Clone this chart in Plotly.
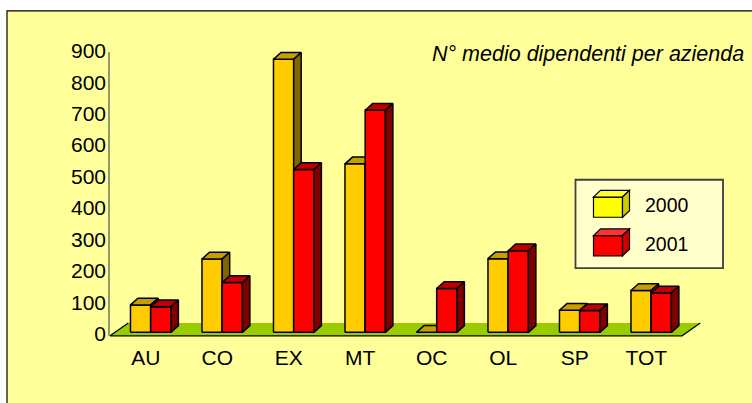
import plotly.graph_objects as go

# ---- data -------------------------------------------------------------
categories = ["AU", "CO", "EX", "MT", "OC", "OL", "SP", "TOT"]
series_names = ["2000", "2001"]
values_2000 = [87, 233, 867, 535, 0, 234, 70, 133]
values_2001 = [81, 158, 517, 705, 139, 259, 69, 125]
y_ticks = [0, 100, 200, 300, 400, 500, 600, 700, 800, 900]
title_text = "N° medio dipendenti per azienda"

# ---- page geometry (pixels) --------------------------------------------
W, H = 752, 403
CAT_PX = 71.5      # width of one category slot on the floor front edge
VAL_PX = 0.3189    # pixels per unit of value
X0_PX = 145.75     # centre of the first category on the floor front edge
Y0_PX = 338.3      # value 0 on the value axis


def xd(px):
    return (px - X0_PX) / CAT_PX


def yd(py):
    return (Y0_PX - py) / VAL_PX


def px(x):
    return x / W


def py(y):
    return 1 - y / H


# oblique projection of depth, in data units
BAR_DX = 7.5 / CAT_PX
BAR_DY = 6.8 / VAL_PX
FLOOR_DX = 18.3 / CAT_PX
FLOOR_DY = 13.0 / VAL_PX
FLOOR_FRONT = yd(340)
BAR_BASE = FLOOR_FRONT + 3.5 / VAL_PX
BAR_SHIFT = 3.5 / 13.0 * 18.3 / CAT_PX
BAR_W = 20.2 / CAT_PX

series_style = {
    "2000": dict(front="#FFCC00", top="#C79E00", side="#806600"),
    "2001": dict(front="#FF0000", top="#C00000", side="#800000"),
}


def faces(values, side_of_centre):
    fx, fy, tx, ty, sx, sy = [], [], [], [], [], []
    for i, v in enumerate(values):
        c = i + BAR_SHIFT
        xl = c - BAR_W if side_of_centre < 0 else c
        xr = xl + BAR_W
        b = BAR_BASE
        t = BAR_BASE + v
        fx += [xl, xr, xr, xl, xl, None]
        fy += [b, b, t, t, b, None]
        tx += [xl, xr, xr + BAR_DX, xl + BAR_DX, xl, None]
        ty += [t, t, t + BAR_DY, t + BAR_DY, t, None]
        sx += [xr, xr + BAR_DX, xr + BAR_DX, xr, xr, None]
        sy += [b, b + BAR_DY, t + BAR_DY, t, b, None]
    return (fx, fy), (tx, ty), (sx, sy)


fig = go.Figure()

# floor
fl_x = [-0.5, 7.5, 7.5 + FLOOR_DX, -0.5 + FLOOR_DX, -0.5]
fl_y = [FLOOR_FRONT, FLOOR_FRONT, FLOOR_FRONT + FLOOR_DY, FLOOR_FRONT + FLOOR_DY, FLOOR_FRONT]
fig.add_trace(go.Scatter(x=fl_x, y=fl_y, fill="toself", fillcolor="#99CC00",
                         mode="lines", line=dict(width=0), hoverinfo="skip",
                         showlegend=False))
fig.add_trace(go.Scatter(x=[-0.5 + FLOOR_DX, -0.5, 7.5, 7.5 + FLOOR_DX],
                         y=[FLOOR_FRONT + FLOOR_DY, FLOOR_FRONT, FLOOR_FRONT, FLOOR_FRONT + FLOOR_DY],
                         mode="lines", line=dict(color="black", width=1.2),
                         hoverinfo="skip", showlegend=False))

# value axis line
fig.add_trace(go.Scatter(x=[xd(109), xd(109)], y=[yd(340), yd(53)], mode="lines",
                         line=dict(color="#77715a", width=1.5), hoverinfo="skip",
                         showlegend=False))

# 3-D columns
for name, vals, side in [("2000", values_2000, -1), ("2001", values_2001, 1)]:
    st = series_style[name]
    front, top, sidef = faces(vals, side)
    for (xs, ys), col in [(front, st["front"]), (top, st["top"]), (sidef, st["side"])]:
        fig.add_trace(go.Scatter(x=xs, y=ys, fill="toself", fillcolor=col, mode="lines",
                                 line=dict(color="black", width=1.5), name=name,
                                 hoverinfo="skip", showlegend=False))

# ---- chart area frame and legend -----------------------------------------
shapes = [
    dict(type="rect", xref="paper", yref="paper", x0=px(7), x1=px(770), y0=py(11), y1=py(420),
         fillcolor="#FFFF99", line=dict(color="black", width=1.2), layer="below"),
    dict(type="rect", xref="paper", yref="paper", x0=px(575.5), x1=px(723), y0=py(182), y1=py(271.5),
         fillcolor="#FFFFCC", line=dict(color="#404040", width=1.8), layer="above"),
]


def cube(x0, y0, w, h, dx, dy, cols):
    def path(pts):
        return "M " + " L ".join(f"{px(a):.5f},{py(b):.5f}" for a, b in pts) + " Z"
    f = [(x0, y0), (x0 + w, y0), (x0 + w, y0 + h), (x0, y0 + h)]
    t = [(x0, y0), (x0 + w, y0), (x0 + w + dx, y0 - dy), (x0 + dx, y0 - dy)]
    s = [(x0 + w, y0), (x0 + w + dx, y0 - dy), (x0 + w + dx, y0 + h - dy), (x0 + w, y0 + h)]
    out = []
    for pts, c in [(f, cols[0]), (t, cols[1]), (s, cols[2])]:
        out.append(dict(type="path", xref="paper", yref="paper", path=path(pts),
                        fillcolor=c, line=dict(color="black", width=1.2), layer="above"))
    return out


legend_cols = {"2000": ("#FFFF00", "#FFFF33", "#CCCC00"),
               "2001": ("#FF0000", "#FF3333", "#CC0000")}
annotations = []
for k, (name, ly) in enumerate(zip(series_names, [199.5, 238.5])):
    shapes += cube(593.5, ly, 29, 20.5, 7, 6.7, legend_cols[name])
    annotations.append(dict(xref="paper", yref="paper", x=px(643), y=py(ly + 8.5),
                            xanchor="left", yanchor="middle", showarrow=False, text=name,
                            font=dict(family="Liberation Sans, Arial, sans-serif", size=19.5,
                                      color="black")))

annotations.append(dict(xref="paper", yref="paper", x=px(430), y=py(55), xanchor="left",
                        yanchor="middle", showarrow=False, text="<i>" + title_text + "</i>",
                        font=dict(family="Liberation Sans, Arial, sans-serif", size=21.5,
                                  color="black")))

font = dict(family="Liberation Sans, Arial, sans-serif", size=21, color="black")
fig.update_layout(
    width=W, height=H, autosize=False,
    margin=dict(l=0, r=0, t=0, b=0, pad=0),
    paper_bgcolor="white", plot_bgcolor="rgba(0,0,0,0)",
    shapes=shapes, annotations=annotations, showlegend=False,
    xaxis=dict(domain=[px(100), px(712)], range=[xd(100), xd(712)],
               tickmode="array", tickvals=list(range(len(categories))), ticktext=categories,
               showgrid=False, zeroline=False, showline=False, ticks="",
               tickfont=font, ticklabelstandoff=2, fixedrange=True),
    yaxis=dict(domain=[py(345), py(30)], range=[yd(345), yd(30)], anchor="free",
               position=px(109), tickmode="array", tickvals=y_ticks,
               showgrid=False, zeroline=False, showline=False, ticks="",
               tickfont=font, ticklabelstandoff=3, fixedrange=True),
)

fig.write_html("out.html")
